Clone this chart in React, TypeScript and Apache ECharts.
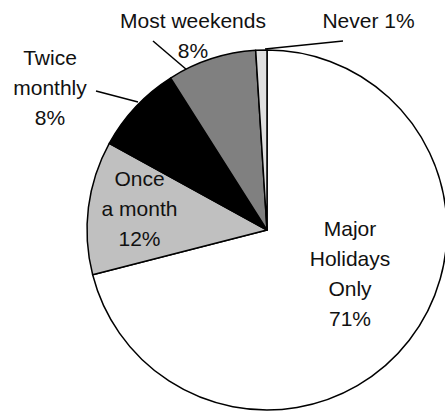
import React, { useEffect, useRef } from 'react';
import * as echarts from 'echarts';

// ---- data ----
const categories = ['Major Holidays Only', 'Once a month', 'Twice monthly', 'Most weekends', 'Never'];
const values = [71, 12, 8, 8, 1];
const labelTexts = ['Major\nHolidays\nOnly', 'Once\na month', 'Twice\nmonthly', 'Most weekends', 'Never'];
const labelSeparators = ['\n', '\n', '\n', '\n', ' '];

// ---- styling / layout ----
const sliceColors = ['#ffffff', '#c0c0c0', '#000000', '#808080', '#e0e0e0'];
const labelInside = [true, true, false, false, false];
const CENTER = [267, 230];
const RADIUS = 180;
const labelCenters = [[350, 273], [139.5, 208], [50, 87], [193, 35], [368.5, 20]];
const leaderLines: Record<number, number[][]> = {
  2: [[138, 102], [96, 91]],
  3: [[187, 70], [153, 41]],
  4: [[265, 49], [343, 41]],
};

export default function App() {
  const ref = useRef<HTMLDivElement>(null);
  useEffect(() => {
    if (!ref.current) return;
    const chart = echarts.init(ref.current, null, { renderer: 'svg' });
    chart.setOption({
      animation: false,
      backgroundColor: '#ffffff',
      series: [
        {
          type: 'pie',
          center: CENTER,
          radius: RADIUS,
          startAngle: 90,
          clockwise: true,
          avoidLabelOverlap: false,
          itemStyle: { borderColor: '#000000', borderWidth: 1.5 },
          emphasis: { disabled: true },
          label: {
            color: '#111111',
            fontFamily: 'Liberation Sans, Arial, sans-serif',
            fontSize: 21,
            lineHeight: 30,
            align: 'center',
            formatter: (p: any) => `${labelTexts[p.dataIndex]}${labelSeparators[p.dataIndex]}${p.value}%`,
          },
          labelLine: {
            show: true,
            length: 10,
            length2: 0,
            smooth: false,
            lineStyle: { color: '#000000', width: 1.5 },
          },
          labelLayout: (params: any) => {
            const i = params.dataIndex;
            const [x, y] = labelCenters[i];
            const out: any = { x, y, align: 'center', verticalAlign: 'middle' };
            const pts = leaderLines[i];
            if (pts) out.labelLinePoints = [pts[0], pts[1], pts[1]];
            return out;
          },
          data: categories.map((name, i) => ({
            name,
            value: values[i],
            itemStyle: { color: sliceColors[i] },
            label: { position: labelInside[i] ? 'inside' : 'outside' },
            labelLine: { show: !labelInside[i] },
          })),
        },
      ],
    });
    return () => chart.dispose();
  }, []);
  return (
    <div
      ref={ref}
      style={{ position: 'absolute', left: 0, top: 0, width: 445, height: 414, background: '#fff' }}
    />
  );
}
